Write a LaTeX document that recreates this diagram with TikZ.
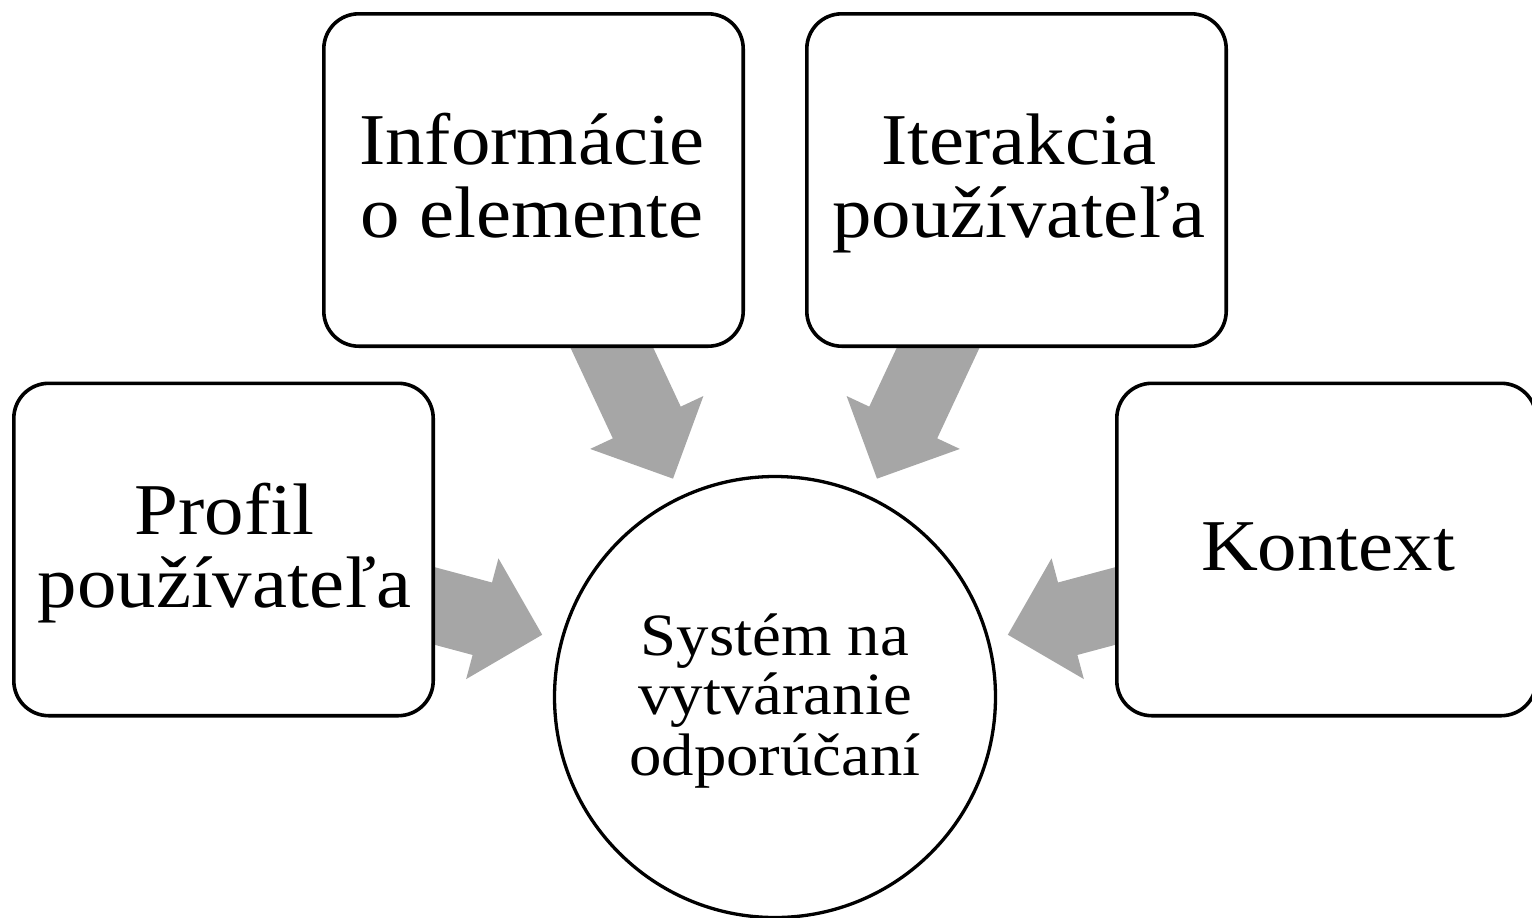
\documentclass[tikz,border=0pt]{standalone}
\usepackage{fontspec}
\setmainfont[FakeStretch=1.08]{Liberation Serif}
\usetikzlibrary{calc,backgrounds}
\definecolor{arrowgray}{HTML}{A6A6A6}
% block arrow from box #1 toward hub #2
\newcommand{\grayarrow}[2]{%
  \coordinate (tip-#1) at ($(#2)!120.5pt!(#1)$);
  \coordinate (hb-#1) at ($(#2)!151.5pt!(#1)$);
  \coordinate (se-#1) at ($(#2)!230pt!(#1)$);
  \fill[garrow] (tip-#1)
    -- ($(hb-#1)!31.25pt!90:(#1)$)
    -- ($(hb-#1)!18.75pt!90:(#1)$)
    -- ($(se-#1)!18.75pt!90:(#1)$)
    -- ($(se-#1)!18.75pt!-90:(#1)$)
    -- ($(hb-#1)!18.75pt!-90:(#1)$)
    -- ($(hb-#1)!31.25pt!-90:(#1)$)
    -- cycle;
}
\begin{document}
\begin{tikzpicture}[x=0.5pt,y=-0.5pt,
  box/.style={draw, line width=1.8pt, rounded corners=17.5pt, fill=white,
    minimum width=209.7pt, minimum height=166.2pt, inner sep=0pt},
  hub/.style={draw, circle, line width=1.65pt, fill=white,
    minimum size=220.5pt, inner sep=0pt},
  boxtext/.style={anchor=base, inner sep=0pt, font=\fontsize{36.5pt}{36.5pt}\selectfont},
  hubtext/.style={anchor=base, inner sep=0pt, font=\fontsize{30pt}{30pt}\selectfont},
  garrow/.style={fill=arrowgray}]
\useasboundingbox (0,0) rectangle (1532,917);
\clip (0,0) rectangle (1532,917);
% boxes
\node[box] (info) at (533.5,180) {};
\node[box] (iter) at (1016.5,180) {};
\node[box] (profil) at (223.5,549.5) {};
\node[box] (kontext) at (1326.5,549.5) {};
\node[hub] (sys) at (775,697) {};
% arrows behind
\begin{scope}[on background layer]
  \grayarrow{profil}{sys}
  \grayarrow{info}{sys}
  \grayarrow{iter}{sys}
  \grayarrow{kontext}{sys}
\end{scope}
% texts
\node[boxtext] (t-info1) at (532,164) {Informácie};
\node[boxtext] (t-info2) at (532,237) {o elemente};
\node[boxtext] (t-iter1) at (1019,164) {Iterakcia};
\node[boxtext] (t-iter2) at (1019,237) {používateľa};
\node[boxtext] (t-prof1) at (224.5,534) {Profil};
\node[boxtext] (t-prof2) at (224.5,607) {používateľa};
\node[boxtext] (t-kont) at (1328,570) {Kontext};
\node[hubtext] (t-sys1) at (775,655) {Systém na};
\node[hubtext] (t-sys2) at (775,714) {vytváranie};
\node[hubtext] (t-sys3) at (775,775) {odporúčaní};
\end{tikzpicture}
\end{document}
